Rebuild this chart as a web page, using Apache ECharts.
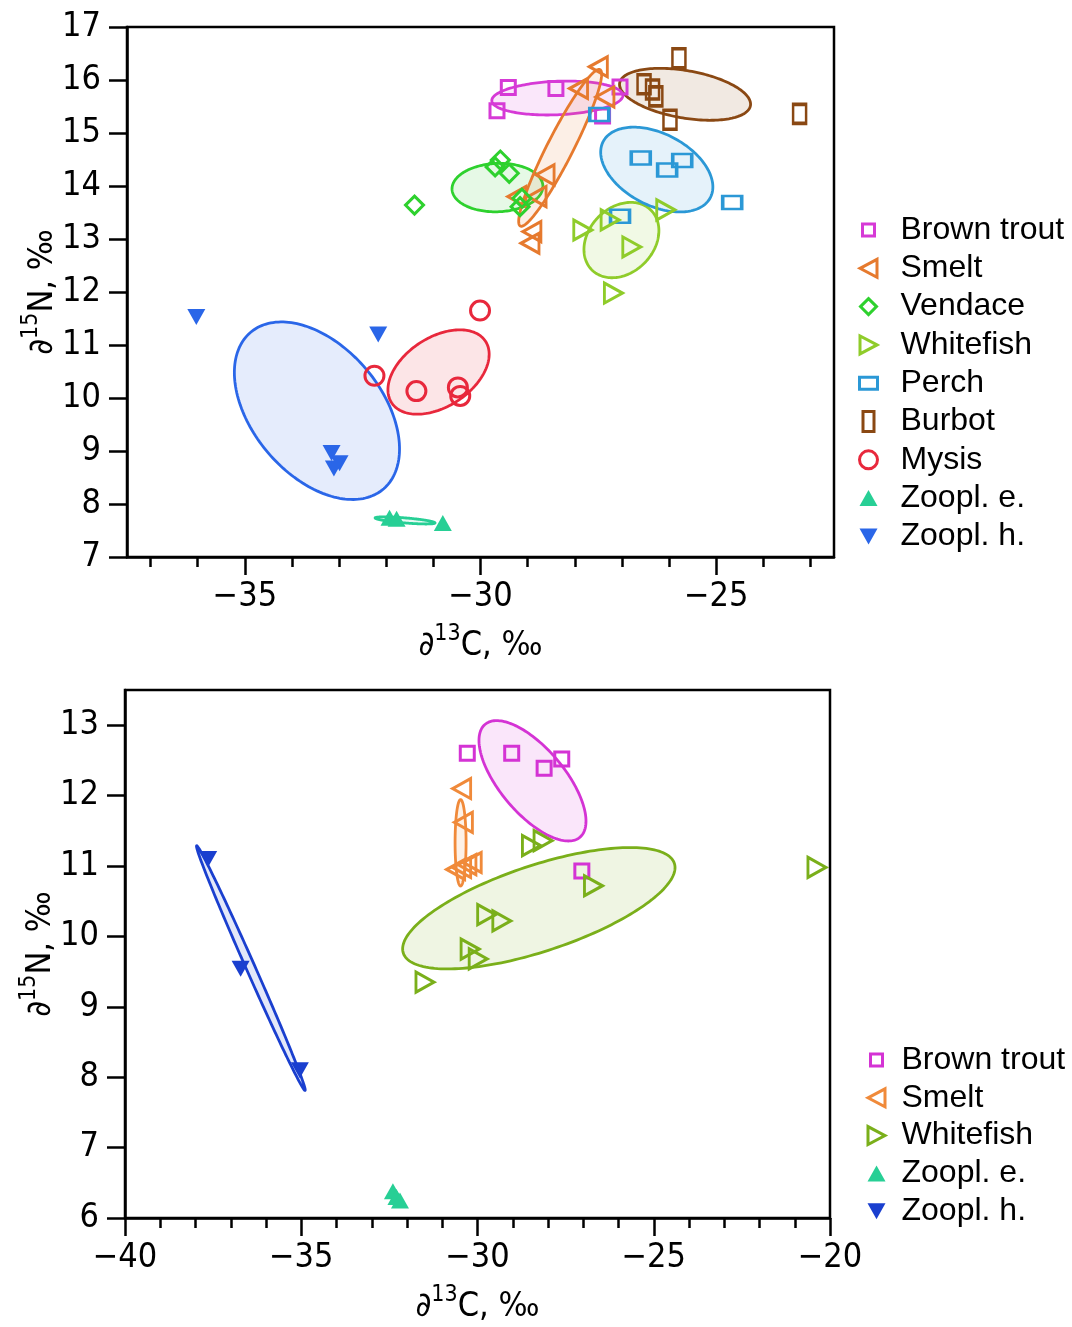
<!DOCTYPE html>
<html><head><meta charset="utf-8">
<script src="https://cdn.jsdelivr.net/npm/echarts@6/dist/echarts.min.js"></script>
<style>html,body{margin:0;padding:0;background:#fff}#c{width:1072px;height:1327px}</style>
</head><body><div id="c"></div>
<script>
// ---------- tick values ----------
const TOP_X_MAJOR = [-35, -30, -25];
const TOP_X_MINOR = [-37, -36, -34, -33, -32, -31, -29, -28, -27, -26, -24, -23];
const TOP_Y_TICKS = [7, 8, 9, 10, 11, 12, 13, 14, 15, 16, 17];
const BOT_X_MAJOR = [-40, -35, -30, -25, -20];
const BOT_X_MINOR = [-39, -38, -37, -36, -34, -33, -32, -31, -29, -28, -27, -26, -24, -23, -22, -21];
const BOT_Y_TICKS = [6, 7, 8, 9, 10, 11, 12, 13];

// ---------- top panel data: [d13C, d15N] ----------
const topBrownTrout = [[-29.41, 15.86], [-28.40, 15.84], [-29.65, 15.42], [-27.41, 15.32], [-27.04, 15.87]];
const topSmelt = [[-27.50, 16.25], [-27.36, 15.68], [-27.92, 15.84], [-28.63, 14.21], [-28.80, 13.80], [-29.23, 13.80], [-28.91, 13.14], [-28.95, 12.92]];
const topVendace = [[-29.58, 14.49], [-29.69, 14.36], [-29.39, 14.24], [-29.12, 13.77], [-29.16, 13.61], [-31.40, 13.64]];
const topWhitefish = [[-27.83, 13.17], [-27.25, 13.36], [-26.07, 13.55], [-26.79, 12.85], [-27.18, 11.98]];
const topPerch = [[-27.48, 15.35], [-26.60, 14.53], [-25.72, 14.48], [-26.04, 14.30], [-24.66, 13.69], [-27.04, 13.43]];
const topBurbot = [[-25.79, 16.41], [-26.53, 15.92], [-26.35, 15.82], [-26.28, 15.69], [-25.98, 15.25], [-23.23, 15.36]];
const topMysis = [[-30.01, 11.65], [-32.25, 10.42], [-31.36, 10.13], [-30.48, 10.20], [-30.43, 10.04]];
const topZooplE = [[-31.93, 7.74], [-31.78, 7.72], [-30.80, 7.64]];
const topZooplH = [[-36.03, 11.53], [-32.17, 11.20], [-33.16, 8.96], [-32.99, 8.77], [-33.11, 8.67]];

// ellipses: [center d13C, center d15N, sd d13C, sd d15N, correlation]
const topEllBrownTrout = [-28.37, 15.66, 1.39, 0.32, 0.15];
const topEllSmelt = [-28.31, 14.72, 0.88, 1.48, 0.937];
const topEllVendace = [-29.64, 13.97, 0.964, 0.457, 0.05];
const topEllWhitefish = [-27.01, 12.98, 0.795, 0.711, 0.25];
const topEllPerch = [-26.26, 14.31, 1.19, 0.80, -0.41];
const topEllBurbot = [-25.66, 15.73, 1.39, 0.49, -0.38];
const topEllMysis = [-30.89, 10.49, 1.074, 0.796, 0.42];
const topEllZooplE = [-31.60, 7.69, 0.636, 0.067, -0.70];
const topEllZooplH = [-33.47, 9.76, 1.752, 1.675, -0.43];

// ---------- bottom panel data ----------
const botBrownTrout = [[-30.29, 12.60], [-29.03, 12.60], [-28.11, 12.39], [-27.61, 12.52], [-27.04, 10.93]];
const botSmelt = [[-30.45, 12.10], [-30.40, 11.62], [-30.62, 10.95], [-30.30, 11.02], [-30.15, 11.05], [-30.45, 10.98]];
const botWhitefish = [[-28.47, 11.29], [-28.14, 11.36], [-26.71, 10.72], [-29.74, 10.31], [-29.31, 10.22], [-30.21, 9.82], [-29.98, 9.68], [-31.49, 9.35], [-20.37, 10.98]];
const botZooplE = [[-32.40, 6.38], [-32.30, 6.30], [-32.20, 6.25]];
const botZooplH = [[-37.64, 11.10], [-36.72, 9.54], [-35.04, 8.10]];

const botEllBrownTrout = [-28.44, 12.21, 1.518, 0.855, -0.67];
const botEllSmelt = [-30.48, 11.33, 0.156, 0.614, 0.0];
const botEllWhitefish = [-28.26, 10.40, 3.864, 0.862, 0.67];
const botEllZooplH = [-36.43, 9.55, 1.542, 1.738, -0.996];

// ---------- styles ----------
const C = {
  trout: '#d63ad6', smelt: '#e67a2e', vendace: '#2ed12e', white: '#8fcc2a', perch: '#2b98d6',
  burbot: '#8a4813', mysis: '#e8283c', zooE: '#27cf95', zooH: '#2a66e8',
  troutB: '#d433d4', smeltB: '#f08a3a', whiteB: '#7aaf1a', zooHB: '#1a3fcf'
};
const TICK_FONT = "'Liberation Sans Narrow','DejaVu Sans Condensed','DejaVu Sans',sans-serif";
const LEG_FONT = "'Liberation Sans',Arial,sans-serif";
const MW = 3; // marker outline width

function rgba(hex, a) {
  const n = parseInt(hex.slice(1), 16);
  return 'rgba(' + ((n >> 16) & 255) + ',' + ((n >> 8) & 255) + ',' + (n & 255) + ',' + a + ')';
}

function ellipse(name, params, color, xi, yi) {
  return {
    type: 'custom', name: name, xAxisIndex: xi, yAxisIndex: yi, silent: true, z: 1,
    data: [params], encode: { x: 0, y: 1 },
    renderItem: function (p, api) {
      const cx = api.value(0), cy = api.value(1), sx = api.value(2), sy = api.value(3), r = api.value(4);
      const q = Math.sqrt(Math.max(0, 1 - r * r));
      const pts = [];
      for (let k = 0; k < 180; k++) {
        const t = 2 * Math.PI * k / 180;
        pts.push(api.coord([cx + sx * Math.cos(t), cy + sy * (r * Math.cos(t) + q * Math.sin(t))]));
      }
      return { type: 'polygon', shape: { points: pts }, style: { fill: rgba(color, 0.12), stroke: color, lineWidth: 2.8 } };
    }
  };
}

function scatter(name, data, symbol, size, rotate, color, filled, xi, yi) {
  return {
    type: 'scatter', name: name, data: data, xAxisIndex: xi, yAxisIndex: yi,
    symbol: symbol, symbolSize: size, symbolRotate: rotate, z: 3, silent: true,
    emphasis: { disabled: true },
    itemStyle: filled ? { color: color, borderWidth: 0, opacity: 1 }
                      : { color: 'rgba(0,0,0,0)', borderColor: color, borderWidth: MW, opacity: 1 }
  };
}

const FRAME = 'M0,0M24,24';
const ICON = {
  square: 'path://' + FRAME + 'M6,6H18V18H6Z',
  left: 'path://' + FRAME + 'M3.5,12L20.5,3V21Z',
  right: 'path://' + FRAME + 'M20.5,12L3.5,3V21Z',
  diamond: 'path://' + FRAME + 'M12,4L20,12L12,20L4,12Z',
  wide: 'path://' + FRAME + 'M3,6H21V18H3Z',
  tall: 'path://' + FRAME + 'M6.5,2H17.5V22H6.5Z',
  circle: 'path://' + FRAME + 'M3,12a9,9 0 1,0 18,0a9,9 0 1,0 -18,0Z',
  up: 'path://' + FRAME + 'M12,4L21,20H3Z',
  down: 'path://' + FRAME + 'M3,4H21L12,20Z'
};
function legItem(name, icon, color, filled) {
  return { name: name, icon: icon, itemStyle: filled ? { color: color, borderWidth: 0 } : { color: 'rgba(0,0,0,0)', borderColor: color, borderWidth: MW } };
}

const minus = v => (v < 0 ? '\u2212' + Math.abs(v) : String(v));
const axisNameRich = {
  a: { fontSize: 34, fontFamily: TICK_FONT, color: '#000', verticalAlign: 'bottom', lineHeight: 40 },
  s: { fontSize: 23, fontFamily: TICK_FONT, color: '#000', verticalAlign: 'top', lineHeight: 40 }
};
const lineS = { color: '#000', width: 2.5 };

function xAxes(grid, min, max, major, minor) {
  return [{
    gridIndex: grid, type: 'value', min: min, max: max, position: 'bottom',
    axisLine: { show: true, onZero: false, lineStyle: lineS },
    axisTick: { show: true, customValues: minor, length: 10, lineStyle: lineS },
    axisLabel: { customValues: major, formatter: minus, fontSize: 34, fontFamily: TICK_FONT, color: '#000', margin: 23 },
    splitLine: { show: false },
    name: '{a|\u2202}{s|13}{a|C, \u2030}', nameLocation: 'middle', nameGap: 66,
    nameTextStyle: { rich: axisNameRich }
  }, {
    gridIndex: grid, type: 'value', min: min, max: max, position: 'bottom',
    axisLine: { show: false, onZero: false },
    axisTick: { show: true, customValues: major, length: 18, lineStyle: lineS },
    axisLabel: { show: false }, splitLine: { show: false }
  }];
}
function yAxis(grid, min, max, ticks) {
  return {
    gridIndex: grid, type: 'value', min: min, max: max, position: 'left',
    axisLine: { show: true, onZero: false, lineStyle: lineS },
    axisTick: { show: true, customValues: ticks, length: 18, lineStyle: lineS },
    axisLabel: { customValues: ticks, fontSize: 34, fontFamily: TICK_FONT, color: '#000', margin: 26 },
    splitLine: { show: false },
    name: '{a|\u2202}{s|15}{a|N, \u2030}', nameLocation: 'middle', nameGap: 67, nameRotate: 90,
    nameMoveOverlap: false,
    nameTextStyle: { rich: axisNameRich }
  };
}

const option = {
  animation: false,
  backgroundColor: '#fff',
  grid: [
    { left: 127, top: 27, width: 707, height: 530, show: true, borderColor: '#000', borderWidth: 2.5, backgroundColor: 'rgba(0,0,0,0)', outerBoundsMode: 'none', containLabel: false },
    { left: 125, top: 690, width: 705, height: 528, show: true, borderColor: '#000', borderWidth: 2.5, backgroundColor: 'rgba(0,0,0,0)', outerBoundsMode: 'none', containLabel: false }
  ],
  xAxis: xAxes(0, -37.5, -22.5, TOP_X_MAJOR, TOP_X_MINOR).concat(xAxes(1, -40, -20, BOT_X_MAJOR, BOT_X_MINOR)),
  yAxis: [yAxis(0, 7, 17, TOP_Y_TICKS), yAxis(1, 6, 13.5, BOT_Y_TICKS)],
  legend: [{
    orient: 'vertical', left: 855, top: 214, padding: 0, itemWidth: 54, itemHeight: 24, itemGap: 6.3,
    selectedMode: false, textStyle: { fontSize: 32, lineHeight: 32, fontFamily: LEG_FONT, color: '#000' },
    data: [
      legItem('Brown trout', ICON.square, C.trout, false),
      legItem('Smelt', ICON.left, C.smelt, false),
      legItem('Vendace', ICON.diamond, C.vendace, false),
      legItem('Whitefish', ICON.right, C.white, false),
      legItem('Perch', ICON.wide, C.perch, false),
      legItem('Burbot', ICON.tall, C.burbot, false),
      legItem('Mysis', ICON.circle, C.mysis, false),
      legItem('Zoopl. e.', ICON.up, C.zooE, true),
      legItem('Zoopl. h.', ICON.down, C.zooH, true)
    ]
  }, {
    orient: 'vertical', left: 863, top: 1044, padding: 0, itemWidth: 40, itemHeight: 24, itemGap: 5.8,
    selectedMode: false, textStyle: { fontSize: 32, lineHeight: 32, fontFamily: LEG_FONT, color: '#000' },
    formatter: n => n.replace(/^B-/, ''),
    data: [
      legItem('B-Brown trout', ICON.square, C.troutB, false),
      legItem('B-Smelt', ICON.left, C.smeltB, false),
      legItem('B-Whitefish', ICON.right, C.whiteB, false),
      legItem('B-Zoopl. e.', ICON.up, C.zooE, true),
      legItem('B-Zoopl. h.', ICON.down, C.zooHB, true)
    ]
  }],
  series: [
    ellipse('e1', topEllZooplH, C.zooH, 0, 0),
    ellipse('e2', topEllZooplE, C.zooE, 0, 0),
    ellipse('e3', topEllMysis, C.mysis, 0, 0),
    ellipse('e4', topEllVendace, C.vendace, 0, 0),
    ellipse('e5', topEllWhitefish, C.white, 0, 0),
    ellipse('e6', topEllPerch, C.perch, 0, 0),
    ellipse('e7', topEllBurbot, C.burbot, 0, 0),
    ellipse('e8', topEllBrownTrout, C.trout, 0, 0),
    ellipse('e9', topEllSmelt, C.smelt, 0, 0),
    scatter('Brown trout', topBrownTrout, 'rect', [14, 14], 0, C.trout, false, 0, 0),
    scatter('Perch', topPerch, 'rect', [19, 13], 0, C.perch, false, 0, 0),
    scatter('Burbot', topBurbot, 'rect', [13, 19], 0, C.burbot, false, 0, 0),
    scatter('Smelt', topSmelt, 'triangle', [20, 18], 90, C.smelt, false, 0, 0),
    scatter('Vendace', topVendace, 'diamond', [18, 18], 0, C.vendace, false, 0, 0),
    scatter('Whitefish', topWhitefish, 'triangle', [20, 18], -90, C.white, false, 0, 0),
    scatter('Mysis', topMysis, 'circle', 19, 0, C.mysis, false, 0, 0),
    scatter('Zoopl. e.', topZooplE, 'triangle', [18, 16], 0, C.zooE, true, 0, 0),
    scatter('Zoopl. h.', topZooplH, 'triangle', [18, 16], 180, C.zooH, true, 0, 0),

    ellipse('f1', botEllZooplH, C.zooHB, 2, 1),
    ellipse('f2', botEllWhitefish, C.whiteB, 2, 1),
    ellipse('f3', botEllBrownTrout, C.troutB, 2, 1),
    ellipse('f4', botEllSmelt, C.smeltB, 2, 1),
    scatter('B-Brown trout', botBrownTrout, 'rect', [14, 14], 0, C.troutB, false, 2, 1),
    scatter('B-Smelt', botSmelt, 'triangle', [20, 18], 90, C.smeltB, false, 2, 1),
    scatter('B-Whitefish', botWhitefish, 'triangle', [20, 18], -90, C.whiteB, false, 2, 1),
    scatter('B-Zoopl. e.', botZooplE, 'triangle', [18, 16], 0, C.zooE, true, 2, 1),
    scatter('B-Zoopl. h.', botZooplH, 'triangle', [18, 16], 180, C.zooHB, true, 2, 1)
  ]
};
const chart = echarts.init(document.getElementById('c'), null, { renderer: 'canvas' });
chart.setOption(option);
</script></body></html>
